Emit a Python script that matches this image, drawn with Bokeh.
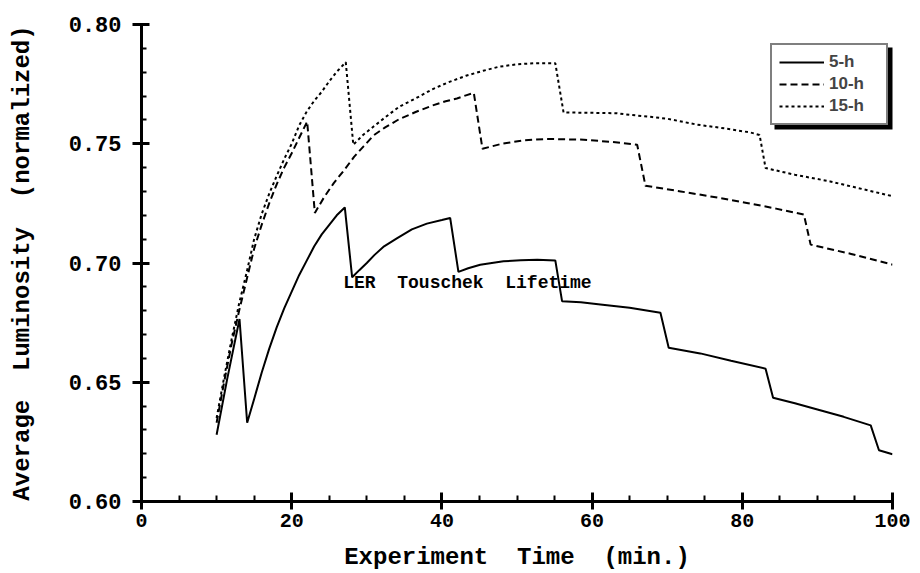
from bokeh.plotting import figure
from bokeh.models import (Legend, LegendItem, Label, SingleIntervalTicker,
                          PrintfTickFormatter, BoxAnnotation)
from bokeh.embed import file_html
from bokeh.resources import INLINE

# ---- data ----
x5 = [10.0, 11.4, 13.05, 14.07, 15, 16, 17, 18, 19, 20, 21, 22, 23, 24, 25, 26, 27.07,
      28.05, 29, 30, 31, 32.3, 34, 36, 38, 40, 41.1,
      42.2, 43.5, 45.1, 48.2, 50.5, 52.7, 55.1,
      56.0, 58.5, 61.1, 65, 69.1,
      70.2, 74.4, 78.5, 83.1,
      84.1, 87, 90, 93.5, 97.1,
      98.2, 100]
y5 = [0.628, 0.6512, 0.6765, 0.633, 0.643, 0.654, 0.664, 0.673, 0.681, 0.688, 0.695, 0.701, 0.707, 0.712, 0.716, 0.720, 0.7233,
      0.694, 0.697, 0.700, 0.7033, 0.707, 0.7103, 0.7141, 0.7165, 0.718, 0.7189,
      0.6963, 0.6978, 0.6993, 0.7007, 0.7012, 0.7014, 0.7011,
      0.684, 0.6835, 0.6826, 0.6812, 0.6791,
      0.6645, 0.6621, 0.659, 0.6557,
      0.6435, 0.6412, 0.6386, 0.6355, 0.6319,
      0.6215, 0.6198]

x10 = [10, 11, 12, 13, 14, 15, 16, 17, 18, 19, 20, 21, 22.06,
       23.08, 24.3, 25.6, 27, 28.3, 29.6, 30.9, 32.5, 34.3, 36.5, 38.7, 40.5, 42, 43.2, 44.25,
       45.4, 48, 51, 54, 58.9, 62.5, 66.0,
       67.1, 71.8, 76, 80.6, 84.5, 88.2,
       89.1, 94.5, 100]
y10 = [0.633, 0.650, 0.666, 0.680, 0.693, 0.706, 0.716, 0.725, 0.733, 0.740, 0.746, 0.7525, 0.7593,
       0.721, 0.7275, 0.7335, 0.739, 0.7445, 0.749, 0.7535, 0.757, 0.7603, 0.7633, 0.766, 0.7678, 0.769, 0.7703, 0.7713,
       0.7479, 0.750, 0.7515, 0.752, 0.7517, 0.7508, 0.7496,
       0.7324, 0.730, 0.7278, 0.7252, 0.7228, 0.7203,
       0.7077, 0.7038, 0.6993]

x15 = [10, 11, 12, 13, 14, 15, 16, 17, 18, 19, 20, 21, 22, 23, 24, 25, 26, 27.2,
       28.2, 29.5, 30.9, 32.5, 34.3, 36.5, 38.7, 40.8, 43.2, 45.5, 47.6, 50, 52.5, 55.1,
       56.2, 59.5, 63.3, 65.1, 68, 70, 74.0, 78, 81.1, 82.3,
       83.1, 87, 91.7, 96, 100]
y15 = [0.635, 0.652, 0.668, 0.683, 0.696, 0.710, 0.7205, 0.729, 0.7365, 0.7436, 0.750, 0.7577, 0.7635, 0.768, 0.7718, 0.7762, 0.7802, 0.7842,
       0.7496, 0.7537, 0.7572, 0.7612, 0.7655, 0.769, 0.7728, 0.7757, 0.7785, 0.7806, 0.7823, 0.7833, 0.7838, 0.7838,
       0.7631, 0.763, 0.7628, 0.7621, 0.7612, 0.7605, 0.758, 0.7563, 0.7547, 0.7537,
       0.7398, 0.737, 0.7342, 0.731, 0.728]

series_labels = ["5-h", "10-h", "15-h"]
NB = "\u00a0 "  # wide word gap, as in the reference
annotation_text = NB.join(["LER", "Touschek", "Lifetime"])
annotation_pos = (26.86, 0.6918)
x_title = NB.join(["Experiment", "Time", "(min.)"])
y_title = NB.join(["Average", "Luminosity", "(normalized)"])

p = figure(width=920, height=573, x_range=(0, 100), y_range=(0.6, 0.8),
           output_backend="svg", toolbar_location=None,
           min_border_left=141, min_border_right=28,
           min_border_top=24, min_border_bottom=71)
p.outline_line_color = None
p.xgrid.visible = False
p.ygrid.visible = False
p.background_fill_color = "white"

mono = "Liberation Mono"
xa = p.xaxis[0]
ya = p.yaxis[0]
xa.ticker = SingleIntervalTicker(interval=20, num_minor_ticks=4)
ya.ticker = SingleIntervalTicker(interval=0.05, num_minor_ticks=5)
ya.formatter = PrintfTickFormatter(format="%.2f")
xa.formatter = PrintfTickFormatter(format="%d")
for ax in (xa, ya):
    ax.axis_line_width = 3
    ax.axis_line_color = "black"
    ax.major_tick_line_width = 3
    ax.minor_tick_line_width = 2
    ax.major_tick_line_color = "black"
    ax.minor_tick_line_color = "black"
    ax.major_label_text_font = mono
    ax.major_label_text_font_style = "bold"
    ax.major_label_text_color = "black"
    ax.axis_label_text_font = mono
    ax.axis_label_text_font_style = "bold"
    ax.axis_label_text_color = "black"
    ax.axis_label_text_font_size = "24px"

ya.major_tick_in = 8
ya.major_tick_out = 9
ya.minor_tick_in = 5
ya.minor_tick_out = 0
ya.major_label_standoff = 11
ya.major_label_text_font_size = "22px"
ya.axis_label = y_title
ya.axis_label_standoff = 30

xa.major_tick_in = 9
xa.major_tick_out = 8
xa.minor_tick_in = 6
xa.minor_tick_out = 0
xa.major_label_standoff = 4
xa.major_label_text_font_size = "20px"
xa.axis_label = x_title
xa.axis_label_standoff = 14

r5 = p.line(x5, y5, line_color="black", line_width=2)
r10 = p.line(x10, y10, line_color="black", line_width=2, line_dash="7 4")
r15 = p.line(x15, y15, line_color="black", line_width=2, line_dash="3 3")

p.add_layout(Label(x=annotation_pos[0], y=annotation_pos[1], text=annotation_text,
                   text_font=mono, text_font_style="bold", text_font_size="18px",
                   text_baseline="middle", text_color="black"))

shadow = BoxAnnotation(left=633, right=753, bottom=372, top=454,
                       left_units="screen", right_units="screen",
                       top_units="screen", bottom_units="screen",
                       fill_color="black", fill_alpha=1, line_color=None)
p.add_layout(shadow)

legend = Legend(items=[LegendItem(label=series_labels[0], renderers=[r5]),
                       LegendItem(label=series_labels[1], renderers=[r10]),
                       LegendItem(label=series_labels[2], renderers=[r15])],
                location=(629, 376), border_line_color="black", border_line_width=2,
                background_fill_color="white", background_fill_alpha=1,
                padding=7, spacing=2, glyph_width=45, glyph_height=20,
                label_standoff=5, label_width=50, label_height=20,
                label_text_font="Liberation Sans", label_text_font_style="bold",
                label_text_font_size="17px", margin=0)
p.add_layout(legend)

open("out.html", "w").write(file_html(p, INLINE))
